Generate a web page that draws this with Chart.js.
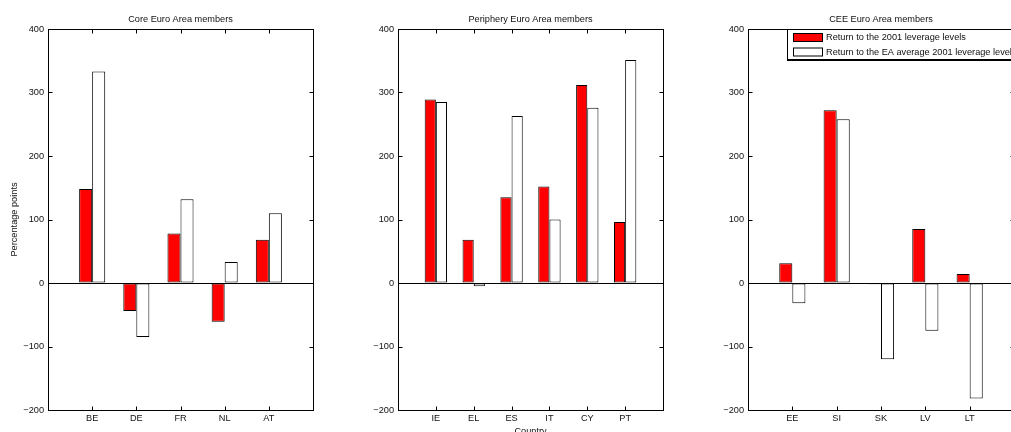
<!DOCTYPE html>
<html>
<head>
<meta charset="utf-8">
<script src="https://cdn.jsdelivr.net/npm/chart.js@4.4.1/dist/chart.umd.min.js"></script>
<style>
  body { margin: 0; width: 1011px; height: 432px; overflow: hidden; background: #fff; position: relative; }
  canvas { position: absolute; top: 0; }
</style>
</head>
<body>
<canvas id="core" width="340" height="440" style="left:0px"></canvas>
<canvas id="peri" width="340" height="440" style="left:340px"></canvas>
<canvas id="cee" width="360" height="440" style="left:680px"></canvas>
<script>
const yTicks = [-200, -100, 0, 100, 200, 300, 400];
const seriesNames = ['Return to the 2001 leverage levels', 'Return to the EA average 2001 leverage levels'];
const seriesColors = ['#ff0000', '#ffffff'];

const coreCountries = ['BE', 'DE', 'FR', 'NL', 'AT'];
const coreOwn = [148, -44, 78, -61, 68];
const coreEA  = [333, -85, 132, 33, 110];

const periCountries = ['IE', 'EL', 'ES', 'IT', 'CY', 'PT'];
const periOwn = [289, 68, 135, 152, 312, 96];
const periEA  = [285, -5, 263, 100, 276, 351];

const ceeCountries = ['EE', 'SI', 'SK', 'LV', 'LT'];
const ceeOwn = [31, 272, -2, 85, 14];
const ceeEA  = [-32, 258, -120, -75, -182];

const FONT = "'Liberation Sans', Arial, Helvetica, sans-serif";
const FS = 9.2;
Chart.defaults.font.family = FONT;
Chart.defaults.font.size = FS;
Chart.defaults.color = '#111';

// box round the plot + small inward ticks on all four sides (matlab style)
const framePlugin = {
    id: 'frame',
    afterDatasetsDraw(chart) {
        const { ctx, chartArea: a, scales: { x, y } } = chart;
        const L = Math.round(a.left) + 0.5, R = Math.round(a.right) + 0.5;
        const T = Math.round(a.top) + 0.5, B = Math.round(a.bottom) + 0.5;
        const tl = 4;
        ctx.save();
        ctx.strokeStyle = '#000';
        ctx.lineWidth = 1;
        ctx.beginPath();
        yTicks.forEach(v => {
            const py = Math.round(y.getPixelForValue(v)) + 0.5;
            ctx.moveTo(L, py); ctx.lineTo(L + tl, py);
            ctx.moveTo(R, py); ctx.lineTo(R - tl, py);
        });
        chart.data.labels.forEach((lab, i) => {
            if (!lab) return;
            const px = Math.round(x.getPixelForValue(i)) + 0.5;
            ctx.moveTo(px, B); ctx.lineTo(px, B - tl);
            ctx.moveTo(px, T); ctx.lineTo(px, T + tl);
        });
        ctx.stroke();
        ctx.strokeRect(L, T, R - L, B - T);
        ctx.restore();
    }
};

// legend box sitting inside the top of the last panel
const boxLegend = {
    id: 'boxLegend',
    afterDraw(chart, args, opts) {
        if (!opts.show) return;
        const { ctx } = chart;
        const x0 = opts.x, y0 = opts.y, w = 260, h = 30;
        ctx.save();
        ctx.fillStyle = '#fff';
        ctx.fillRect(x0, y0, w, h);
        ctx.strokeStyle = '#000';
        ctx.lineWidth = 1;
        ctx.strokeRect(x0 + 0.5, y0 + 0.5, w, h);
        ctx.lineWidth = 2;
        ctx.beginPath();
        ctx.moveTo(x0, y0 + h + 1); ctx.lineTo(x0 + w, y0 + h + 1);
        ctx.stroke();
        ctx.font = FS + 'px ' + FONT;
        ctx.textBaseline = 'middle';
        chart.data.datasets.forEach((ds, i) => {
            const py = y0 + 4 + i * 14.5;
            ctx.fillStyle = ds.backgroundColor;
            ctx.fillRect(x0 + 6, py, 29, 8);
            ctx.lineWidth = 1;
            ctx.strokeRect(x0 + 6.5, py + 0.5, 29, 8);
            ctx.fillStyle = '#111';
            ctx.fillText(ds.label, x0 + 39, py + 4.5);
        });
        ctx.restore();
    }
};

function makePanel(id, title, countries, own, ea, o) {
    const labels = ['', ...countries, ''];
    const pad = arr => [null, ...arr, null];
    return new Chart(document.getElementById(id), {
        type: 'bar',
        data: {
            labels: labels,
            datasets: [own, ea].map((vals, i) => ({
                label: seriesNames[i],
                data: pad(vals),
                backgroundColor: seriesColors[i],
                borderColor: '#000',
                borderWidth: 1,
                borderSkipped: false,
                categoryPercentage: 0.59,
                barPercentage: 1.0,
            }))
        },
        options: {
            responsive: false,
            animation: false,
            devicePixelRatio: 1,
            layout: { padding: { left: 0, right: o.padRight, top: 0, bottom: 0 } },
            plugins: {
                legend: { display: false },
                tooltip: { enabled: false },
                title: {
                    display: true,
                    text: title,
                    fullSize: false,
                    color: '#111',
                    font: { size: FS, weight: 'normal' },
                    padding: { top: 13.5, bottom: 4.46 },
                },
                boxLegend: o.legend || { show: false },
            },
            scales: {
                x: {
                    offset: false,
                    grid: { display: false, offset: false, drawTicks: false },
                    border: { display: false },
                    ticks: { autoSkip: false, maxRotation: 0, padding: 3, color: '#111' },
                    title: {
                        display: !!o.xTitle,
                        text: o.xTitle || '',
                        color: '#111',
                        font: { size: FS },
                        padding: { top: 0, bottom: 3.5 },
                    },
                    afterFit: s => { s.height = 30; },
                },
                y: {
                    min: -200,
                    max: 400,
                    afterBuildTicks: s => { s.ticks = yTicks.map(v => ({ value: v })); },
                    grid: {
                        drawTicks: false,
                        color: c => (c.tick && c.tick.value === 0) ? '#000' : 'rgba(0,0,0,0)',
                    },
                    border: { display: false },
                    ticks: {
                        padding: 4,
                        color: '#111',
                        callback: v => v < 0 ? '\u2212' + Math.abs(v) : String(v),
                    },
                    title: {
                        display: !!o.yTitle,
                        text: o.yTitle || '',
                        color: '#111',
                        font: { size: FS },
                        padding: { top: 8.5, bottom: 0 },
                    },
                    afterFit: s => { s.width = o.yWidth; },
                }
            }
        },
        plugins: [framePlugin, boxLegend]
    });
}

makePanel('core', 'Core Euro Area members', coreCountries, coreOwn, coreEA,
    { yWidth: 48, padRight: 27, yTitle: 'Percentage points' });
makePanel('peri', 'Periphery Euro Area members', periCountries, periOwn, periEA,
    { yWidth: 58, padRight: 17, xTitle: 'Country' });
makePanel('cee', 'CEE Euro Area members', ceeCountries, ceeOwn, ceeEA,
    { yWidth: 68, padRight: 26, legend: { show: true, x: 107, y: 29 } });
</script>
</body>
</html>
